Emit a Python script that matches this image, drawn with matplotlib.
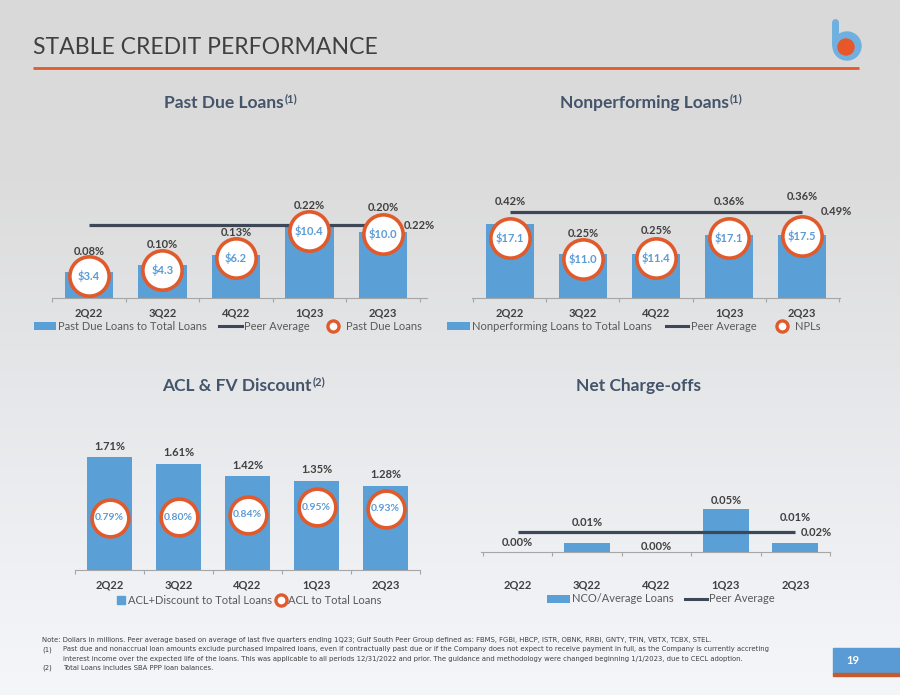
import numpy as np
import matplotlib
matplotlib.use('Agg')
import matplotlib.pyplot as plt
from matplotlib.patches import Patch, Rectangle, Circle
from matplotlib.lines import Line2D

plt.rcParams['font.family'] = ['Lato', 'DejaVu Sans']

# ---- data ----
quarters = ['2Q22', '3Q22', '4Q22', '1Q23', '2Q23']

pd_ratio = [0.08, 0.10, 0.13, 0.22, 0.20]      # past due loans to total loans (%)
pd_amount = [3.4, 4.3, 6.2, 10.4, 10.0]        # past due loans ($M)
pd_peer = 0.22

npl_ratio = [0.42, 0.25, 0.25, 0.36, 0.36]     # NPLs to total loans (%)
npl_amount = [17.1, 11.0, 11.4, 17.1, 17.5]    # NPLs ($M)
npl_peer = 0.49

acl_fv = [1.71, 1.61, 1.42, 1.35, 1.28]        # ACL + discount to total loans (%)
acl = [0.79, 0.80, 0.84, 0.95, 0.93]           # ACL to total loans (%)

nco = [0.00, 0.01, 0.00, 0.05, 0.01]           # NCO / average loans (%)
nco_peer = 0.023

# label offsets (pixels above the anchor point)
pd_lbl_off = [25, 26, 26, 25, 26]
npl_lbl_off = [36, 26, 27, 36, 40]
nco_lbl_off = [9, 21, 5, 8, 26]

W, H = 900, 695
BLUE = '#5a9fd6'
ORANGE = '#e05a2b'
PEER = '#3d4757'
TXT = '#404040'
LEG = '#595959'
HEAD = '#44546a'

fig = plt.figure(figsize=(W / 100, H / 100), dpi=100)

# background + slide furniture in pixel coordinates
bg = fig.add_axes([0, 0, 1, 1])
stops_y = [0, 180, 350, 600, 695]
stops_c = np.array([[217, 217, 217], [220, 220, 220], [228, 229, 231],
                    [240, 242, 245], [244, 246, 249]]) / 255.0
yy = np.arange(H)
grad = np.stack([np.interp(yy, stops_y, stops_c[:, k]) for k in range(3)], axis=1)
bg.imshow(grad[:, None, :], extent=(0, W, H, 0), aspect='auto', zorder=0)
bg.set_xlim(0, W)
bg.set_ylim(H, 0)
bg.axis('off')


def px(l, t, r, b):
    return [l / W, 1 - b / H, (r - l) / W, (b - t) / H]


def fit_width(t, target):
    r = fig.canvas.get_renderer()
    w = t.get_window_extent(r).width
    t.set_fontsize(t.get_fontsize() * target / w)
    return t.get_fontsize()


title = bg.text(33, 47, 'STABLE CREDIT PERFORMANCE', fontsize=16, color='#404040',
                fontweight='normal', va='center', ha='left', zorder=5)
fit_width(title, 345)
bg.plot([33, 859], [68, 68], color=ORANGE, lw=2, solid_capstyle='butt', zorder=5)

# logo
bg.plot([835, 835], [22, 44], color='#6fb0e0', lw=5, solid_capstyle='round', zorder=5)
bg.add_patch(Circle((847, 46), 14, color='#6fb0e0', zorder=6))
bg.add_patch(Circle((846, 47), 8, color='#e8562a', zorder=7))

# slide number
bg.add_patch(Rectangle((833, 648), 67, 25, color='#5b9bd5', zorder=5))
bg.add_patch(Rectangle((833, 673), 67, 3, color='#c55a2f', zorder=5))
bg.text(853, 661, '19', color='white', fontsize=8, fontweight='bold',
        ha='center', va='center', zorder=6)

# footnotes
foot_fam = ['DejaVu Sans']
note = bg.text(42, 640, 'Note: Dollars in millions. Peer average based on average of last five quarters '
               'ending 1Q23; Gulf South Peer Group defined as: FBMS, FGBI, HBCP, ISTR, OBNK, RRBI, '
               'GNTY, TFIN, VBTX, TCBX, STEL.', fontsize=5, color=TXT, va='center',
               family=foot_fam, zorder=5)
fs = fit_width(note, 676)
foot_lines = [
    (42, 649.5, '(1)'),
    (63, 649.5, 'Past due and nonaccrual loan amounts exclude purchased impaired loans, even if '
                'contractually past due or if the Company does not expect to receive payment in full, '
                'as the Company is currently accreting'),
    (63, 659, 'interest income over the expected life of the loans. This was applicable to all periods '
              '12/31/2022 and prior. The guidance and methodology were changed beginning 1/1/2023, '
              'due to CECL adoption.'),
    (42, 668, '(2)'),
    (63, 668, 'Total Loans includes SBA PPP loan balances.'),
]
for fx, fy, s in foot_lines:
    bg.text(fx, fy, s, fontsize=fs, color=TXT, va='center', family=foot_fam, zorder=5)


def chart_title(cx, cy, main, sup):
    r = fig.canvas.get_renderer()
    t1 = bg.text(0, cy, main, fontsize=12.5, fontweight='bold', color=HEAD,
                 ha='left', va='center', zorder=5)
    t2 = bg.text(0, cy - 4, sup, fontsize=8, fontweight='bold', color=HEAD,
                 ha='left', va='center', zorder=5)
    w1 = t1.get_window_extent(r).width
    w2 = t2.get_window_extent(r).width
    x0 = cx - (w1 + w2) / 2
    t1.set_x(x0)
    t2.set_x(x0 + w1 + 1)


chart_title(230, 103, 'Past Due Loans', '(1)')
chart_title(651, 103, 'Nonperforming Loans', '(1)')
chart_title(243, 386, 'ACL & FV Discount', '(2)')
chart_title(638, 386, 'Net Charge-offs', '')

x = np.arange(len(quarters))


def bar_panel(rect, xlim, ylim, values, pad):
    ax = fig.add_axes(rect)
    ax.patch.set_alpha(0)
    ax.bar(x, values, width=0.66, color=BLUE, zorder=2)
    ax.set_xlim(xlim)
    ax.set_ylim(ylim)
    for s in ['top', 'left', 'right']:
        ax.spines[s].set_visible(False)
    ax.spines['bottom'].set_color('#a6a6a6')
    ax.spines['bottom'].set_linewidth(0.8)
    ax.set_yticks([])
    ax.set_xticks(x, quarters)
    ax.tick_params(axis='x', length=0, pad=pad, labelsize=8, labelcolor=TXT)
    for lb in ax.get_xticklabels():
        lb.set_fontweight('bold')
    ax.set_xticks(np.arange(-0.5, len(quarters), 1), minor=True)
    ax.tick_params(axis='x', which='minor', length=3, color='#a6a6a6', width=0.8)
    return ax


def legend(ax, handles, labels, cx, cy, **kw):
    lg = ax.legend(handles, labels, loc='center', bbox_to_anchor=(cx / W, 1 - cy / H),
                   bbox_transform=fig.transFigure, ncol=len(handles), frameon=False,
                   fontsize=8, labelcolor=LEG, borderaxespad=0, borderpad=0, **kw)
    return lg


def ring_panel(ax, amounts, top):
    ax2 = ax.twinx()
    ax2.set_ylim(0, top)
    ax2.axis('off')
    ax2.scatter(x, amounts, s=800, facecolor='white', edgecolor=ORANGE, linewidth=2.6, zorder=3)
    for i, a in enumerate(amounts):
        ax2.text(i, a, f'${a:.1f}', color='#5b9bd5', fontsize=8, fontweight='bold',
                 ha='center', va='center', zorder=4)
    return ax2


ring_h = Line2D([], [], marker='o', ls='', mfc='white', mec=ORANGE, mew=2.4, ms=8)
peer_h = Line2D([], [], color=PEER, lw=2.2)
bar_h = Patch(facecolor=BLUE)

# ---- Past Due Loans ----
ax1 = bar_panel(px(52, 190, 427, 298), (-0.5, 4.6), (0, 108 / 330), pd_ratio, 6.5)
ax1.plot(x, [pd_peer] * len(x), color=PEER, lw=2.3, zorder=3, solid_capstyle='butt')
ax1.text(4.5, pd_peer, f'{pd_peer:.2f}%', ha='center', va='center', fontsize=8,
         fontweight='bold', color=TXT)
a1 = ring_panel(ax1, pd_amount, 108 / 6.45)
for i, (r, a) in enumerate(zip(pd_ratio, pd_amount)):
    a1.annotate(f'{r:.2f}%', xy=(i, a), xytext=(0, pd_lbl_off[i] * 0.72), textcoords='offset points',
                ha='center', va='center', fontsize=8, fontweight='bold', color=TXT)
legend(ax1, [bar_h, peer_h, ring_h],
       ['Past Due Loans to Total Loans', 'Peer Average', 'Past Due Loans'], 228, 326,
       handletextpad=0.2, columnspacing=1.1)

# ---- Nonperforming Loans ----
ax2 = bar_panel(px(472, 190, 840, 298), (-0.52, 4.52), (0, 108 / 176), npl_ratio, 6.5)
ax2.plot(x, [npl_peer] * len(x), color=PEER, lw=2.3, zorder=3, solid_capstyle='butt')
ax2.text(4.47, npl_peer, f'{npl_peer:.2f}%', ha='center', va='center', fontsize=8,
         fontweight='bold', color=TXT)
a2 = ring_panel(ax2, npl_amount, 108 / 3.53)
for i, (r, a) in enumerate(zip(npl_ratio, npl_amount)):
    a2.annotate(f'{r:.2f}%', xy=(i, a), xytext=(0, npl_lbl_off[i] * 0.72), textcoords='offset points',
                ha='center', va='center', fontsize=8, fontweight='bold', color=TXT)
legend(ax2, [bar_h, peer_h, ring_h],
       ['Nonperforming Loans to Total Loans', 'Peer Average', 'NPLs'], 634, 326,
       handletextpad=0.2, columnspacing=1.3)

# ---- ACL & FV Discount ----
ax3 = bar_panel(px(75, 420, 420, 570), (-0.48, 4.5), (0, 150 / 66), acl_fv, 6.5)
for i, v in enumerate(acl_fv):
    ax3.annotate(f'{v:.2f}%', xy=(i, v), xytext=(0, 11 * 0.72), textcoords='offset points',
                 ha='center', va='center', fontsize=8, fontweight='bold', color=TXT)
ax3.scatter(x, acl, s=700, facecolor='white', edgecolor=ORANGE, linewidth=2.6, zorder=3)
for i, v in enumerate(acl):
    ax3.text(i, v, f'{v:.2f}%', color='#5b9bd5', fontsize=7.5, fontweight='bold',
             ha='center', va='center', zorder=4)
sq_h = Line2D([], [], marker='s', ls='', color=BLUE, ms=5.5)
legend(ax3, [sq_h, ring_h], ['ACL+Discount to Total Loans', 'ACL to Total Loans'], 249, 600,
       handlelength=0.8, handletextpad=0.2, columnspacing=0.4)

# ---- Net Charge-offs ----
ax4 = bar_panel(px(481, 480, 830, 552), (-0.53, 4.5), (0, 72 / 860), nco, 19.5)
ax4.plot(x, [nco_peer] * len(x), color=PEER, lw=2.3, zorder=3, solid_capstyle='butt')
ax4.text(4.3, nco_peer, f'{nco_peer:.2f}%', ha='center', va='center', fontsize=8,
         fontweight='bold', color=TXT)
for i, v in enumerate(nco):
    ax4.annotate(f'{v:.2f}%', xy=(i, v), xytext=(0, nco_lbl_off[i] * 0.72), textcoords='offset points',
                 ha='center', va='center', fontsize=8, fontweight='bold', color=TXT)
legend(ax4, [bar_h, peer_h], ['NCO/Average Loans', 'Peer Average'], 661, 599,
       handletextpad=0.2, columnspacing=1.0)

fig.savefig('out.png', dpi=100)
